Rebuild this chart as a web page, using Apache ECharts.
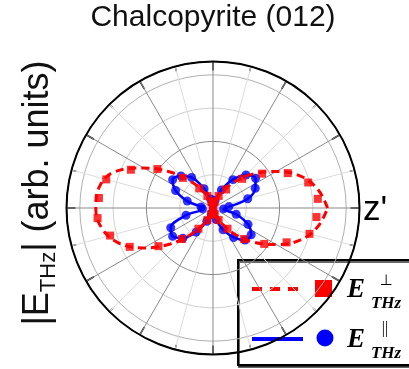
<!DOCTYPE html>
<html>
<head>
<meta charset="utf-8">
<script src="https://cdn.jsdelivr.net/npm/echarts@6/dist/echarts.min.js"></script>
<style>
  html, body { margin: 0; padding: 0; background: #fff; }
  #chart { width: 409px; height: 369px; }
</style>
</head>
<body>
<div id="chart"></div>
<script>
// THz emission amplitude vs. azimuthal angle, Chalcopyrite (012)
const titleText = 'Chalcopyrite (012)';

// E perpendicular: measured points (angle in degrees, amplitude)
const perpAngles = [5, 15, 25, 35, 45, 55, 65, 75, 85, 95, 105, 115, 125, 135, 145, 155, 165, 175,
                    185, 195, 205, 215, 225, 235, 245, 255, 265, 275, 285, 295, 305, 315, 325, 335, 345, 355];
const perpValues = [0.79, 0.74, 0.62, 0.45, 0.31, 0.17, 0.10, 0.05, 0.03, 0.03, 0.05, 0.10, 0.18, 0.32, 0.51, 0.68, 0.83, 0.86,
                    0.87, 0.80, 0.69, 0.50, 0.33, 0.19, 0.10, 0.05, 0.03, 0.03, 0.05, 0.10, 0.19, 0.33, 0.47, 0.61, 0.75, 0.78];

// E perpendicular: fitted curve
const perpFitAngles = [0, 10, 20, 30, 40, 50, 60, 70, 80, 90, 100, 110, 120, 130, 140, 150, 160, 170,
                       180, 190, 200, 210, 220, 230, 240, 250, 260, 270, 280, 290, 300, 310, 320, 330, 340, 350];
const perpFitValues = [0.86, 0.80, 0.70, 0.55, 0.40, 0.26, 0.14, 0.07, 0.03, 0.02, 0.03, 0.07, 0.14, 0.26, 0.42, 0.60, 0.79, 0.87,
                       0.88, 0.85, 0.76, 0.60, 0.42, 0.26, 0.14, 0.07, 0.03, 0.02, 0.03, 0.07, 0.14, 0.26, 0.40, 0.55, 0.70, 0.80];

// E parallel: measured points
const paraAngles = [5, 15, 25, 35, 45, 55, 65, 75, 85, 95, 105, 115, 125, 135, 145, 155, 165, 175,
                    185, 195, 205, 215, 225, 235, 245, 255, 265, 275, 285, 295, 305, 315, 325, 335, 345, 355];
const paraValues = [0.12, 0.27, 0.35, 0.39, 0.35, 0.26, 0.15, 0.06, 0.03, 0.03, 0.07, 0.16, 0.28, 0.34, 0.37, 0.31, 0.20, 0.09,
                    0.08, 0.21, 0.35, 0.37, 0.32, 0.22, 0.11, 0.05, 0.03, 0.04, 0.09, 0.18, 0.27, 0.34, 0.35, 0.29, 0.18, 0.08];

const RED = '#ff0000';
const BLUE = '#0000ff';

function pairs(angles, values, close) {
  const out = angles.map((a, i) => [values[i], a]);
  if (close) out.push([values[0], angles[0] + 360]);
  return out;
}

// text width helper for composing labels with subscripts
const mctx = document.createElement('canvas').getContext('2d');
function textWidth(str, font) { mctx.font = font; return mctx.measureText(str).width; }

const chart = echarts.init(document.getElementById('chart'), null, { renderer: 'canvas' });

// y-axis label "|E_THz| (arb. units)" built from pieces, rotated to read upward
const yFontMain = '36px "Liberation Sans"';
const yFontSub = '22px "Liberation Sans"';
const yParts = [
  { t: '|E', font: yFontMain, size: 36, dy: 0 },
  { t: 'THz', font: yFontSub, size: 22, dy: 4 },
  { t: '| (arb. units)', font: yFontMain, size: 36, dy: 0 }
];
const yTotal = yParts.reduce((s, p) => s + textWidth(p.t, p.font), 0);
let yx = -yTotal / 2;
const yChildren = yParts.map(p => {
  const el = {
    type: 'text', x: yx, y: p.dy,
    style: { text: p.t, fontFamily: 'Liberation Sans', fontSize: p.size, fill: '#111',
             textAlign: 'left', textVerticalAlign: 'bottom' }
  };
  yx += textWidth(p.t, p.font);
  return el;
});

const serifBI = { fontFamily: 'Liberation Serif', fontWeight: 'bold', fontStyle: 'italic', fill: '#000' };

chart.setOption({
  animation: false,
  backgroundColor: '#fff',
  polar: { center: [213, 208], radius: 146.5 },
  angleAxis: {
    type: 'value', min: 0, max: 360, interval: 30,
    startAngle: 0, clockwise: false,
    axisLine: { lineStyle: { color: '#000', width: 2 } },
    axisTick: { show: true, inside: true, length: 9, lineStyle: { color: '#000', width: 1.5 } },
    minorTick: { show: true, splitNumber: 2, length: 5, lineStyle: { color: '#000', width: 1.2 } },
    axisLabel: { show: false },
    splitLine: { show: true, lineStyle: { color: '#8a8a8a', width: 1 } },
    minorSplitLine: { show: true, lineStyle: { color: '#dcdcdc', width: 1 } }
  },
  radiusAxis: {
    type: 'value', min: 0, max: 1.1, interval: 0.25,
    axisLine: { show: false }, axisTick: { show: false }, axisLabel: { show: false },
    splitLine: { show: true, lineStyle: { color: ['#bbb', '#d0d0d0', '#8a8a8a', '#d0d0d0', '#b0b0b0', '#000'], width: 1 } }
  },
  series: [
    { type: 'line', coordinateSystem: 'polar', data: pairs(paraAngles, paraValues, true),
      smooth: 0.35, symbol: 'none', lineStyle: { color: BLUE, width: 2.5 }, z: 2 },
    { type: 'scatter', coordinateSystem: 'polar', data: pairs(paraAngles, paraValues, false),
      symbol: 'circle', symbolSize: 9, itemStyle: { color: BLUE }, z: 3 },
    { type: 'line', coordinateSystem: 'polar', data: pairs(perpFitAngles, perpFitValues, true),
      smooth: 0.4, symbol: 'none', lineStyle: { color: RED, width: 3, type: [8, 5] }, z: 4 },
    { type: 'scatter', coordinateSystem: 'polar', data: pairs(perpAngles, perpValues, false),
      symbol: 'rect', symbolSize: 8, itemStyle: { color: RED }, z: 5 }
  ],
  graphic: [
    { type: 'text', x: 213, y: 18, style: { text: titleText, fontFamily: 'Liberation Sans', fontSize: 30,
      fill: '#111', textAlign: 'center', textVerticalAlign: 'middle' } },
    { type: 'group', x: 56, y: 193, rotation: Math.PI / 2, children: yChildren },
    { type: 'text', x: 375, y: 210, style: { text: "z'", fontFamily: 'Liberation Sans', fontSize: 35,
      fill: '#000', textAlign: 'center', textVerticalAlign: 'middle' } },
    // legend box
    { type: 'group', z: 100, children: [
      { type: 'rect', shape: { x: 238, y: 260, width: 185, height: 105 },
        style: { fill: '#fff', stroke: '#000', lineWidth: 2, shadowColor: 'rgba(0,0,0,0.6)', shadowOffsetX: 1, shadowOffsetY: 2 } },
      { type: 'line', shape: { x1: 252, y1: 289, x2: 301, y2: 289 },
        style: { stroke: RED, lineWidth: 4, lineDash: [10, 8] } },
      { type: 'rect', shape: { x: 315, y: 280, width: 17, height: 17 }, style: { fill: RED } },
      { type: 'text', x: 356, y: 290, style: Object.assign({ text: 'E', fontSize: 27, textAlign: 'center', textVerticalAlign: 'middle' }, serifBI) },
      { type: 'text', x: 386, y: 281, style: { text: '\u22A5', fontFamily: 'DejaVu Sans', fontSize: 15, fill: '#000', textAlign: 'center', textVerticalAlign: 'middle' } },
      { type: 'text', x: 386, y: 304, style: Object.assign({ text: 'THz', fontSize: 17, textAlign: 'center', textVerticalAlign: 'middle' }, serifBI) },
      { type: 'line', shape: { x1: 252, y1: 339, x2: 303, y2: 339 },
        style: { stroke: BLUE, lineWidth: 4 } },
      { type: 'circle', shape: { cx: 325, cy: 338, r: 8.5 }, style: { fill: BLUE } },
      { type: 'text', x: 356, y: 340, style: Object.assign({ text: 'E', fontSize: 27, textAlign: 'center', textVerticalAlign: 'middle' }, serifBI) },
      { type: 'text', x: 385, y: 329, style: { text: '||', fontFamily: 'Liberation Serif', fontSize: 16, fill: '#000', textAlign: 'center', textVerticalAlign: 'middle' } },
      { type: 'text', x: 386, y: 354, style: Object.assign({ text: 'THz', fontSize: 17, textAlign: 'center', textVerticalAlign: 'middle' }, serifBI) }
    ] }
  ]
});
</script>
</body>
</html>
